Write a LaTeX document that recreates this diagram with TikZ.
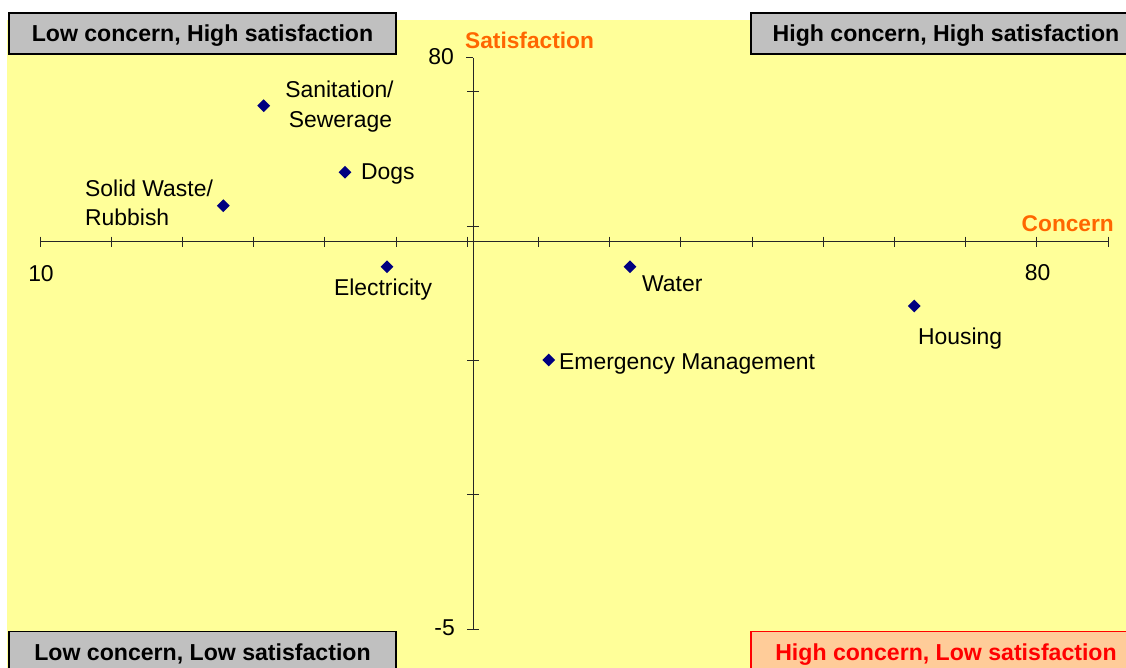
\documentclass[tikz,border=0pt]{standalone}
\usepackage{fontspec}
\setmainfont{Liberation Sans}
\usetikzlibrary{shapes.geometric}
\definecolor{bgyellow}{HTML}{FFFF99}
\definecolor{boxgray}{HTML}{C0C0C0}
\definecolor{axisorange}{HTML}{FF6600}
\definecolor{ptnavy}{HTML}{000080}
\definecolor{peach}{HTML}{FFCC99}
\definecolor{alertred}{HTML}{FF0000}
\begin{document}
\begin{tikzpicture}[x=1pt,y=-1pt,
  lbl/.style={font=\fontsize{22.9}{26}\selectfont, inner sep=0pt, text=black},
  axttl/.style={font=\fontsize{22.7}{26}\selectfont\bfseries, inner sep=0pt, text=axisorange},
  quad/.style={draw=black, line width=1.6pt, fill=boxgray, minimum width=387pt, minimum height=41pt,
    inner sep=0pt, text height=17pt, text depth=0pt, font=\fontsize{23.1}{26}\selectfont\bfseries},
  quadalert/.style={quad, draw=alertred, fill=peach, text=alertred},
  axisline/.style={draw=black!85, line width=1pt},
  pt/.style={diamond, fill=ptnavy, inner sep=0pt, minimum width=13pt, minimum height=13pt}
]
\useasboundingbox (0,0) rectangle (1126,668);
\fill[white] (0,0) rectangle (1126,668);
\fill[bgyellow] (7,20) rectangle (1126,668);

% axes
\coordinate (xl) at (40,241.7);
\coordinate (xr) at (1108,241.7);
\coordinate (yt) at (473,58);
\coordinate (yb) at (473,629);
\draw[axisline] (xl) -- (xr);
\draw[axisline] (yt) -- (yb);
\foreach \i in {0,...,15} {
  \draw[axisline] ({40+\i*71.2},236.7) -- ({40+\i*71.2},246.7);
}
\foreach \yy in {629,494.75,360.5,226.25,92} {
  \draw[axisline] (467,\yy) -- (479,\yy);
}
\draw[axisline] (466,58) -- (yt);

% axis labels
\node[lbl, anchor=base east] (y80) at (454,65) {80};
\node[lbl, anchor=base east] (ym5) at (455,635) {-5};
\node[lbl, anchor=base] (x10) at (41,281) {10};
\node[lbl, anchor=base] (x80) at (1037.5,280.7) {80};
\node[axttl, anchor=base west] (sat) at (465,49) {Satisfaction};
\node[axttl, anchor=base east] (con) at (1114,231.7) {Concern};

% data points
\node[pt] (san) at (263.7,105.7) {};
\node[pt] (dogs) at (345,172.3) {};
\node[pt] (solid) at (223.3,205.7) {};
\node[pt] (elec) at (387,266.7) {};
\node[pt] (water) at (630,266.7) {};
\node[pt] (emerg) at (548.7,360) {};
\node[pt] (house) at (914.3,306) {};

% data labels
\node[lbl, anchor=base] (sanA) at (339.5,98) {Sanitation/};
\node[lbl, anchor=base] (sanB) at (340.5,128) {Sewerage};
\node[lbl, anchor=base west] (dogsL) at (361,179.3) {Dogs};
\node[lbl, anchor=base west] (solidA) at (85,197) {Solid Waste/};
\node[lbl, anchor=base west] (solidB) at (85,226) {Rubbish};
\node[lbl, anchor=base] (elecL) at (383,295) {Electricity};
\node[lbl, anchor=base west] (waterL) at (642,291.7) {Water};
\node[lbl, anchor=base west] (emergL) at (559,369) {Emergency Management};
\node[lbl, anchor=base west] (houseL) at (918,344) {Housing};

% quadrant boxes
\node[quad] (tl) at (202.5,33.5) {Low concern, High satisfaction};
\node[quad, minimum width=390pt] (tr) at (946,33.5) {High concern, High satisfaction};
\node[quad] (bl) at (202.5,652) {Low concern, Low satisfaction};
\node[quadalert, minimum width=390pt] (br) at (946,652) {High concern, Low satisfaction};
\end{tikzpicture}
\end{document}
